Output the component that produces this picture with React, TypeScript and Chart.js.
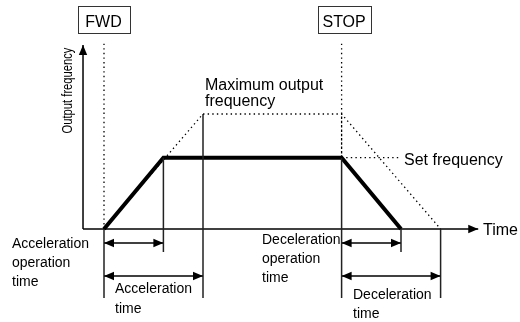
import React, { useEffect, useRef } from "react";
import { Chart, registerables } from "chart.js";

Chart.register(...registerables);

// ---- data (time units / % of maximum frequency) ----
const eventLabels = ["FWD", "STOP"];
const eventTimes = [0, 24]; // FWD on, STOP command
const outputTimes = [0, 6, 24, 30]; // actual output: start, reach set freq, stop, zero
const outputValues = [0, 62, 62, 0];
const ratedTimes = [0, 10, 24, 34]; // reference slope to max output frequency
const ratedValues = [0, 100, 100, 0];
const setFrequency = 62;
const maxFrequency = 100;
const accelOpEnd = 6;
const accelEnd = 10;
const decelOpEnd = 30;
const decelEnd = 34;

// guide geometry (in data units)
const axisOrigin = -2.12;
const axisTimeEnd = 37.8;
const axisFreqEnd = 160;
const guideTop = 161;
const longTickBottom = -60;
const shortTickBottom = -20;
const opArrowLevel = -12.2;
const fullArrowLevel = -40.9;

const BLACK = "#000";
const GREY = "#222";

type P = { x: number; y: number };
const seg = (xs: number[], ys: number[]): P[] => xs.map((x, i) => ({ x, y: ys[i] }));

export default function App() {
  const ref = useRef<HTMLCanvasElement | null>(null);
  useEffect(() => {
    if (!ref.current) return;
    const solid = (data: P[], w = 1.5, color = GREY) => ({
      data,
      borderColor: color,
      borderWidth: w,
      pointRadius: 0,
      showLine: true,
      tension: 0,
      fill: false,
      borderCapStyle: "butt",
      borderJoinStyle: "miter",
    });
    const dotted = (data: P[], dash = [1.4, 3.2]) => ({
      ...solid(data, 1.3, BLACK),
      borderDash: dash,
    });

    const arrows: { from: P; to: P; both: boolean }[] = [
      { from: { x: axisOrigin, y: 0 }, to: { x: axisOrigin, y: axisFreqEnd }, both: false },
      { from: { x: axisOrigin, y: 0 }, to: { x: axisTimeEnd, y: 0 }, both: false },
      { from: { x: 0, y: opArrowLevel }, to: { x: accelOpEnd, y: opArrowLevel }, both: true },
      { from: { x: 0, y: fullArrowLevel }, to: { x: accelEnd, y: fullArrowLevel }, both: true },
      { from: { x: eventTimes[1], y: opArrowLevel }, to: { x: decelOpEnd, y: opArrowLevel }, both: true },
      { from: { x: eventTimes[1], y: fullArrowLevel }, to: { x: decelEnd, y: fullArrowLevel }, both: true },
    ];

    const datasets: any[] = [
      // dotted guides
      dotted(seg([eventTimes[0], eventTimes[0]], [0, guideTop])),
      dotted(seg([eventTimes[1], eventTimes[1]], [maxFrequency, guideTop])),
      dotted(seg([eventTimes[1], eventTimes[1]], [setFrequency, maxFrequency]), [2.5, 1.8]),
      dotted(seg(ratedTimes, ratedValues)),
      dotted(seg([eventTimes[1], decelOpEnd], [setFrequency, setFrequency])),
      // solid vertical markers
      solid(seg([eventTimes[0], eventTimes[0]], [0, longTickBottom])),
      solid(seg([accelOpEnd, accelOpEnd], [setFrequency, shortTickBottom])),
      solid(seg([accelEnd, accelEnd], [maxFrequency, longTickBottom])),
      solid(seg([eventTimes[1], eventTimes[1]], [setFrequency, longTickBottom])),
      solid(seg([decelOpEnd, decelOpEnd], [0, shortTickBottom])),
      solid(seg([decelEnd, decelEnd], [0, longTickBottom])),
      // arrows lines
      ...arrows.map((a) => solid([a.from, a.to], 1.5, BLACK)),
      // output frequency
      solid(seg(outputTimes, outputValues), 4, BLACK),
    ];

    const annot = {
      id: "annot",
      afterDatasetsDraw(chart: any) {
        const { ctx } = chart;
        const xs = chart.scales.x;
        const ys = chart.scales.y;
        const px = (p: P) => ({ x: xs.getPixelForValue(p.x), y: ys.getPixelForValue(p.y) });
        ctx.save();
        ctx.fillStyle = BLACK;
        const head = (tip: { x: number; y: number }, from: { x: number; y: number }) => {
          const ang = Math.atan2(tip.y - from.y, tip.x - from.x);
          const L = 10, W = 4.2;
          ctx.beginPath();
          ctx.moveTo(tip.x, tip.y);
          ctx.lineTo(tip.x - L * Math.cos(ang) - W * Math.sin(ang), tip.y - L * Math.sin(ang) + W * Math.cos(ang));
          ctx.lineTo(tip.x - L * Math.cos(ang) + W * Math.sin(ang), tip.y - L * Math.sin(ang) - W * Math.cos(ang));
          ctx.closePath();
          ctx.fill();
        };
        arrows.forEach((a) => {
          const f = px(a.from), t = px(a.to);
          head(t, f);
          if (a.both) head(f, t);
        });

        // event boxes
        ctx.font = "16px 'Liberation Sans', Arial, sans-serif";
        ctx.textAlign = "center";
        ctx.textBaseline = "alphabetic";
        ctx.lineWidth = 1;
        ctx.strokeStyle = "#333";
        const boxW = [52, 53];
        eventLabels.forEach((lbl, i) => {
          const cx = xs.getPixelForValue(eventTimes[i]) + (i === 0 ? -0.5 : 2.5);
          const w = boxW[i];
          ctx.strokeRect(Math.round(cx - w / 2) + 0.5, 6.5, w, 27);
          ctx.fillText(lbl, cx, 27);
        });

        ctx.textAlign = "left";
        const text = (lines: string[], x: number, y: number, step: number, size: number) => {
          ctx.font = `${size}px 'Liberation Sans', Arial, sans-serif`;
          lines.forEach((l, i) => ctx.fillText(l, x, y + i * step));
        };
        text(["Maximum output", "frequency"], 205, 90, 16, 16);
        text(["Set frequency"], 404, 165, 0, 16);
        text(["Time"], 483, 235, 0, 16);
        text(["Acceleration", "operation", "time"], 12, 248, 19, 14);
        text(["Acceleration", "time"], 115, 293, 19.5, 14);
        text(["Deceleration", "operation", "time"], 262, 244, 19, 14);
        text(["Deceleration", "time"], 353, 299, 18.5, 14);

        // rotated y title
        ctx.save();
        ctx.translate(72, 90.5);
        ctx.rotate(-Math.PI / 2);
        ctx.scale(0.8, 1);
        ctx.textAlign = "center";
        ctx.font = "14px 'Liberation Sans', Arial, sans-serif";
        ctx.fillText("Output frequency", 0, 0);
        ctx.restore();
        ctx.restore();
      },
    };

    const chart = new Chart(ref.current, {
      type: "scatter",
      data: { datasets },
      options: {
        animation: false,
        responsive: true,
        maintainAspectRatio: false,
        layout: { padding: 0 },
        plugins: { legend: { display: false }, tooltip: { enabled: false } },
        scales: {
          x: { type: "linear", display: false, min: -104 / 9.9, max: 416 / 9.9 },
          y: { type: "linear", display: false, min: -93 / 1.15, max: 229 / 1.15 },
        },
      },
      plugins: [annot],
    } as any);
    return () => chart.destroy();
  }, []);

  return (
    <div style={{ position: "absolute", left: 0, top: 0, width: 520, height: 322, background: "#fff" }}>
      <canvas ref={ref} />
    </div>
  );
}
